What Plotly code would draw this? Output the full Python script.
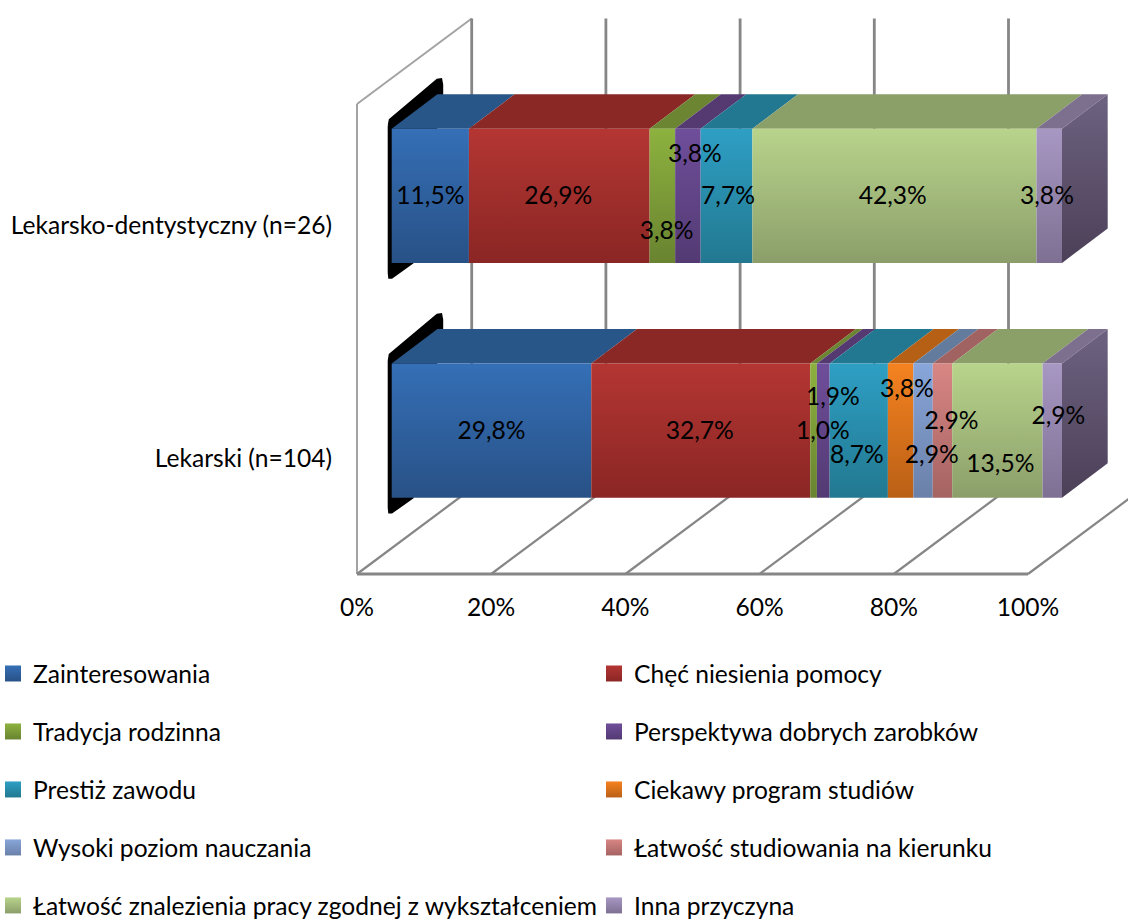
import plotly.graph_objects as go

# ---- data ----
categories = ["Lekarski (n=104)", "Lekarsko-dentystyczny (n=26)"]
series_names = ["Zainteresowania", "Chęć niesienia pomocy", "Tradycja rodzinna",
                "Perspektywa dobrych zarobków", "Prestiż zawodu", "Ciekawy program studiów",
                "Wysoki poziom nauczania", "Łatwość studiowania na kierunku",
                "Łatwość znalezienia pracy zgodnej z wykształceniem", "Inna przyczyna"]
lekarski = [29.8, 32.7, 1.0, 1.9, 8.7, 3.8, 2.9, 2.9, 13.5, 2.9]
lekarsko_dent = [11.5, 26.9, 3.8, 3.8, 7.7, 0, 0, 0, 42.3, 3.8]
x_ticks = [0, 20, 40, 60, 80, 100]
x_tick_labels = ["0%", "20%", "40%", "60%", "80%", "100%"]

# ---- styles ----
front_top = ["#356FB6", "#B43633", "#8DB23F", "#6F4E9B", "#2E9FC4", "#F58220", "#88A6DA", "#D88684", "#B8D48B", "#A797C3"]
front_bot = ["#285186", "#8A2624", "#698330", "#533A73", "#227890", "#B96016", "#6A80A8", "#A46362", "#8B9E6A", "#7E7093"]
top_face = ["#285689", "#892825", "#6B8532", "#553A72", "#217890", "#B66015", "#637C9E", "#A16362", "#8B9F68", "#7D6F8E"]
side_top, side_bot = "#6D6280", "#4C4058"
grid_color = "#868686"
wall_color = "#A3A3A3"
FONT = "Lato"
FS = 24.6

# per-bar label nudges from the segment centre, in pixels
label_dx = [[0, -1, 9.3, 9.6, -1.9, 6.2, 8.7, 9, 3, 6], [0, -1, 4.3, 7, 1.5, 0, 0, 0, -1.7, -2.3]]
label_dy = [[0, 0, 0, -34.7, 24, -42.4, 24, -10.7, 32.6, -15], [0, 0, 35, -42.7, 0, 0, 0, 0, 0, 0]]
LABEL_BASELINE_FIX = 2.5

W, H = 1128, 922
X0_PX, PX_PER_PCT = 357.0, 6.71      # 0% on the floor front edge
Y0_PX, PX_PER_CAT = 430.7, 234.9     # centre of first bar
px_x = lambda p: (p - X0_PX) / PX_PER_PCT
px_y = lambda p: (Y0_PX - p) / PX_PER_CAT
dx_u = lambda d: d / PX_PER_PCT
dy_u = lambda d: d / PX_PER_CAT

FLOOR_Y = px_y(574)
WALL_TOP = px_y(104)
WALL_DX, WALL_DY = dx_u(114.7), dy_u(85.5)
BAR_LEFT, BAR_SPAN = px_x(391.7), 670.3 / PX_PER_PCT
BAR_H = dy_u(134.2)
BAR_DX, BAR_DY = dx_u(45.7), dy_u(34.5)

fig = go.Figure()

def line(xs, ys, color=grid_color, width=2.5):
    fig.add_trace(go.Scatter(x=xs, y=ys, mode="lines", line=dict(color=color, width=width),
                             showlegend=False, hoverinfo="skip"))

# walls and gridlines
line([0, WALL_DX], [WALL_TOP, WALL_TOP + WALL_DY], wall_color, 2)
line([0, 0], [FLOOR_Y, WALL_TOP], wall_color, 2)
for t in x_ticks:
    line([t, t + WALL_DX], [FLOOR_Y, FLOOR_Y + WALL_DY], grid_color, 2.2)
    line([t + WALL_DX, t + WALL_DX], [FLOOR_Y + WALL_DY, WALL_TOP + WALL_DY], grid_color, 2.8)
line([x_ticks[0], x_ticks[-1]], [FLOOR_Y, FLOOR_Y], grid_color, 2.8)

def poly(xs, ys, **kw):
    fig.add_trace(go.Scatter(x=xs + xs[:1], y=ys + ys[:1], mode="lines", fill="toself",
                             showlegend=False, hoverinfo="skip", **kw))

# black left end piece, outline offsets in pixels from the bar's front top-left
blk_dx = [-3, -2, 45.5, 49.5, 50.5, 50.5, 21, 0, -2.5, -3]
blk_dy = [-3, -9, -49, -49.5, -44, -34, 134, 149, 149, 144]

text_x, text_y, text_s = [], [], []
for b, vals in enumerate([lekarski, lekarsko_dent]):
    total = sum(vals)
    yc = float(b)
    top, bot = yc + BAR_H / 2, yc - BAR_H / 2
    poly([BAR_LEFT + dx_u(d) for d in blk_dx], [top - dy_u(d) for d in blk_dy],
         line=dict(color="black", width=2), fillcolor="black")
    cum = 0.0
    for i, v in enumerate(vals):
        if v == 0:
            continue
        xa = BAR_LEFT + BAR_SPAN * cum / total
        cum += v
        xb = BAR_LEFT + BAR_SPAN * cum / total
        # top face
        poly([xa, xb, xb + BAR_DX, xa + BAR_DX], [top, top, top + BAR_DY, top + BAR_DY],
             line=dict(width=0), fillcolor=top_face[i])
        # front face
        poly([xa, xb, xb, xa], [top, top, bot, bot], line=dict(width=0),
             fillgradient=dict(type="vertical", colorscale=[[0, front_bot[i]], [1, front_top[i]]]))
        text_x.append((xa + xb) / 2 + dx_u(label_dx[b][i]))
        text_y.append(yc - dy_u(label_dy[b][i] + LABEL_BASELINE_FIX))
        text_s.append(f"{v:.1f}".replace(".", ",") + "%")
    # right side face
    xe = BAR_LEFT + BAR_SPAN
    poly([xe, xe + BAR_DX, xe + BAR_DX, xe], [top, top + BAR_DY, bot + BAR_DY, bot], line=dict(width=0),
         fillgradient=dict(type="vertical", colorscale=[[0, side_bot], [1, side_top]]))

fig.add_trace(go.Scatter(x=text_x, y=text_y, text=text_s, mode="text", textposition="middle center",
                         textfont=dict(family=FONT, size=FS, color="black"),
                         showlegend=False, hoverinfo="skip"))

# legend entries
for i, name in enumerate(series_names):
    fig.add_trace(go.Scatter(
        x=[None], y=[None], mode="markers", name=name, legendgroup=name,
        legend="legend" if i % 2 == 0 else "legend2",
        marker=dict(symbol="square", size=16, color=front_top[i], line=dict(width=0),
                    gradient=dict(type="vertical", color=front_bot[i]))))

leg = dict(font=dict(family=FONT, size=FS, color="black"), bgcolor="rgba(0,0,0,0)",
           orientation="v", tracegroupgap=23, xanchor="left", yanchor="top",
           y=1 - 651 / H, itemclick=False, itemdoubleclick=False, borderwidth=0)

fig.update_layout(
    width=W, height=H, margin=dict(l=0, r=0, t=0, b=0, autoexpand=False),
    paper_bgcolor="white", plot_bgcolor="white", showlegend=True,
    font=dict(family=FONT, size=FS, color="black"),
    legend=dict(leg, x=-7 / W),
    legend2=dict(leg, x=594 / W),
    xaxis=dict(range=[px_x(0), px_x(W)], domain=[0, 1], anchor="free", position=1 - 574 / H,
               tickvals=x_ticks, ticktext=x_tick_labels, ticks="outside", ticklen=11,
               tickcolor="rgba(0,0,0,0)", showgrid=False, zeroline=False, showline=False,
               tickfont=dict(family=FONT, size=FS, color="black")),
    yaxis=dict(range=[px_y(H), px_y(0)], domain=[0, 1], anchor="free", position=X0_PX / W,
               tickvals=[px_y(458), px_y(225)], ticktext=categories, ticks="outside", ticklen=20,
               tickcolor="rgba(0,0,0,0)", showgrid=False, zeroline=False, showline=False,
               tickfont=dict(family=FONT, size=FS, color="black")),
)

fig.write_html("out.html", post_script="document.body.style.margin='0';document.body.style.overflow='hidden';",
               config=dict(displayModeBar=False))
